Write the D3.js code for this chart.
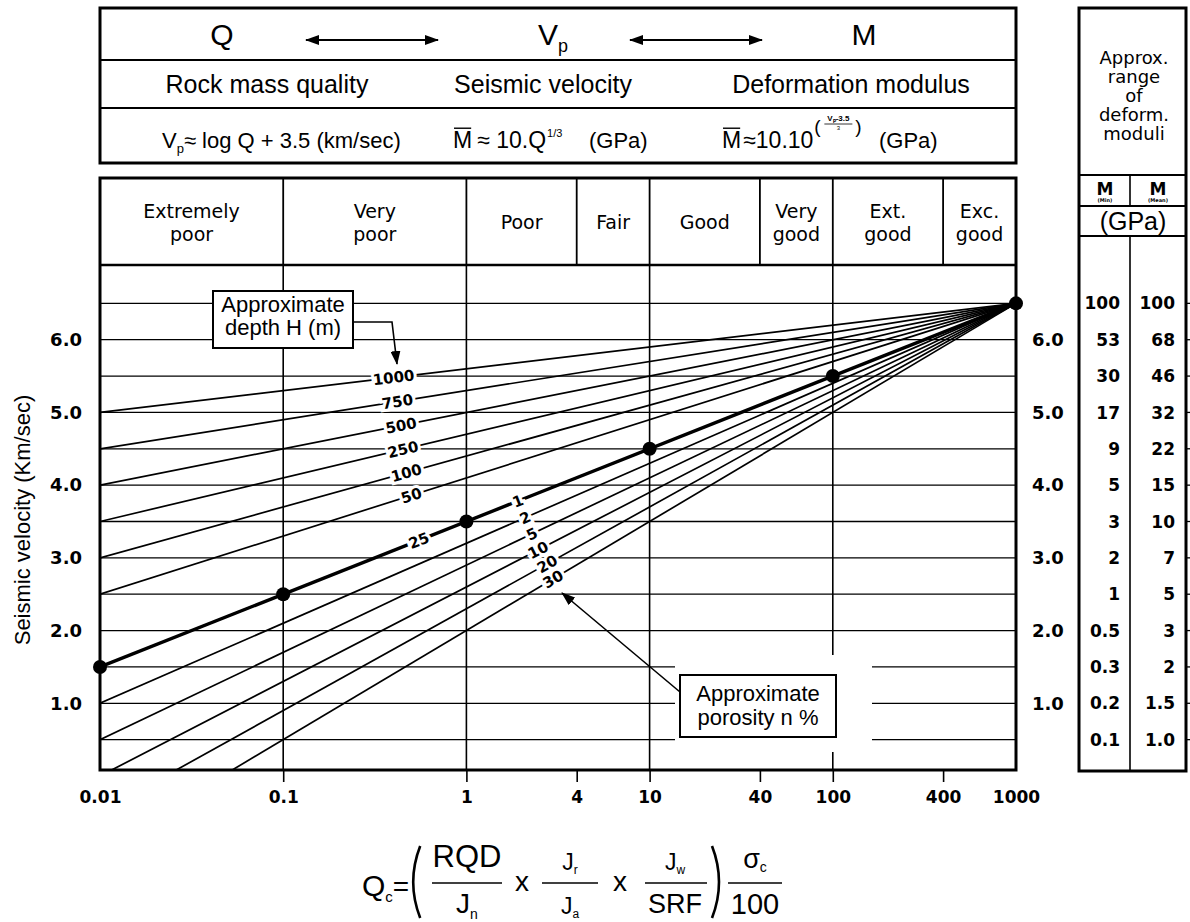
<!DOCTYPE html>
<html>
<head>
<meta charset="utf-8">
<script src="https://cdn.jsdelivr.net/npm/d3@7"></script>
<style>
body{margin:0;background:#fff}
svg{display:block}
</style>
</head>
<body>
<div id="chart"></div>
<script>
// ---- data ----
var qTicks = [0.01, 0.1, 1, 4, 10, 40, 100, 400, 1000];
var qGridLines = [0.1, 1, 10, 100];
var qClassEdges = [0.01, 0.1, 1, 4, 10, 40, 100, 400, 1000];
var qClassNames = [["Extremely","poor"],["Very","poor"],["Poor"],["Fair"],["Good"],["Very","good"],["Ext.","good"],["Exc.","good"]];
var vpTicks = [1, 2, 3, 4, 5, 6];
var vpGrid = [0.5, 1, 1.5, 2, 2.5, 3, 3.5, 4, 4.5, 5, 5.5, 6, 6.5];

// all lines run from Q=0.01 to the common point Q=1000, Vp=6.5
var startQ = 0.01, pivotQ = 1000, pivotVp = 6.5;
var depthLabels = ["1000","750","500","250","100","50","25"];
var depthStartVp = [5.0, 4.5, 4.0, 3.5, 3.0, 2.5, 1.5];
var depthLabelQ = [0.40, 0.42, 0.44, 0.45, 0.47, 0.50, 0.55];
var porosityLabels = ["1","2","5","10","20","30"];
var porosityStartVp = [1.5, 1.0, 0.5, 0.0, -0.5, -1.0];
var porosityLabelQ = [1.91, 2.09, 2.28, 2.46, 2.76, 2.97];

var dotQ = [0.01, 0.1, 1, 10, 100, 1000];
var dotVp = [1.5, 2.5, 3.5, 4.5, 5.5, 6.5];

var tableVp = [6.5, 6.0, 5.5, 5.0, 4.5, 4.0, 3.5, 3.0, 2.5, 2.0, 1.5, 1.0, 0.5];
var mMin  = ["100","53","30","17","9","5","3","2","1","0.5","0.3","0.2","0.1"];
var mMean = ["100","68","46","32","22","15","10","7","5","3","2","1.5","1.0"];

// ---- layout ----
var W = 1190, H = 922;
var SANS = "'Liberation Sans', Arial, sans-serif";
var DV = "'DejaVu Sans', sans-serif";

var svg = d3.select("#chart").append("svg")
  .attr("width", W).attr("height", H)
  .style("font-family", SANS);
svg.append("rect").attr("width", W).attr("height", H).attr("fill", "#fff");

var x = d3.scaleLog().domain([0.01, 1000]).range([100, 1016]);
var y = d3.scaleLinear().domain([0, 7]).range([776, 267]);
var plotTop = 265, plotBottom = 770, classTop = 178;
var plotLeft = x(0.01), plotRight = x(1000);

var defs = svg.append("defs");
defs.append("clipPath").attr("id", "plotclip").append("rect")
  .attr("x", plotLeft).attr("y", plotTop)
  .attr("width", plotRight - plotLeft).attr("height", plotBottom - plotTop);
defs.append("marker").attr("id", "ah")
  .attr("viewBox", "0 0 14 10").attr("refX", 13).attr("refY", 5)
  .attr("markerWidth", 14).attr("markerHeight", 10)
  .attr("markerUnits", "userSpaceOnUse")
  .attr("orient", "auto-start-reverse")
  .append("path").attr("d", "M0,0 L14,5 L0,10 Z").attr("fill", "#000");

// helper: lay text pieces side by side (for subscripts / superscripts)
function seq(parent, x0, base, pieces, anchor) {
  var g = parent.append("g"), cx = 0, items = [];
  pieces.forEach(function(p) {
    var t = g.append("text").attr("x", 0).attr("y", base + (p.dy || 0))
      .style("font-size", p.size + "px").text(p.t);
    if (p.family) t.style("font-family", p.family);
    if (p.weight) t.style("font-weight", p.weight);
    var w = t.node().getComputedTextLength();
    items.push({t: t, x: cx, w: w, p: p});
    cx += w + (p.gap || 0);
  });
  var off = anchor === "middle" ? x0 - cx / 2 : x0;
  items.forEach(function(it) {
    it.t.attr("x", off + it.x);
    if (it.p.over) {
      g.append("line")
        .attr("x1", off + it.x + 1).attr("x2", off + it.x + it.w - 1)
        .attr("y1", base - it.p.size * 0.86).attr("y2", base - it.p.size * 0.86)
        .attr("stroke", "#000").attr("stroke-width", 1.4);
    }
  });
  return {x: off, end: off + cx};
}

// ---- gridlines ----
svg.append("g").selectAll("line").data(vpGrid).join("line")
  .attr("x1", plotLeft).attr("x2", plotRight)
  .attr("y1", function(d){ return y(d); }).attr("y2", function(d){ return y(d); })
  .attr("stroke", "#000").attr("stroke-width", 1.3);

svg.append("g").selectAll("line").data(qGridLines).join("line")
  .attr("x1", function(d){ return x(d); }).attr("x2", function(d){ return x(d); })
  .attr("y1", plotTop).attr("y2", plotBottom)
  .attr("stroke", "#000").attr("stroke-width", 1.6);

// class row dividers
svg.append("g").selectAll("line").data(qClassEdges.slice(1, -1)).join("line")
  .attr("x1", function(d){ return x(d); }).attr("x2", function(d){ return x(d); })
  .attr("y1", classTop).attr("y2", plotTop)
  .attr("stroke", "#000").attr("stroke-width", 1.8);

// ---- depth and porosity lines ----
var line = d3.line().x(function(d){ return x(d[0]); }).y(function(d){ return y(d[1]); });
var lg = svg.append("g").attr("clip-path", "url(#plotclip)");

lg.selectAll("path.por").data(porosityStartVp).join("path").attr("class", "por")
  .attr("d", function(v){ return line([[startQ, v], [pivotQ, pivotVp]]); })
  .attr("fill", "none").attr("stroke", "#000").attr("stroke-width", 1.7);

lg.selectAll("path.dep").data(depthStartVp).join("path").attr("class", "dep")
  .attr("d", function(v){ return line([[startQ, v], [pivotQ, pivotVp]]); })
  .attr("fill", "none").attr("stroke", "#000")
  .attr("stroke-width", function(v, i){ return i === depthStartVp.length - 1 ? 3.4 : 1.7; });

// white gap around the porosity note (breaks gridlines and Q=100 line)
svg.append("rect").attr("x", 675).attr("y", 655).attr("width", 197).attr("height", 97).attr("fill", "#fff");

// dots on the main line
svg.append("g").selectAll("circle").data(dotQ).join("circle")
  .attr("cx", function(d){ return x(d); })
  .attr("cy", function(d, i){ return y(dotVp[i]); })
  .attr("r", 7).attr("fill", "#000");

// ---- line labels ----
function posOnLine(v0, q) {
  var t = (Math.log10(q) - Math.log10(startQ)) / (Math.log10(pivotQ) - Math.log10(startQ));
  return v0 + (pivotVp - v0) * t;
}
function angleOf(v0) {
  return Math.atan2(y(pivotVp) - y(v0), x(pivotQ) - x(startQ)) * 180 / Math.PI;
}
function lineLabels(labels, starts, qs) {
  svg.append("g").selectAll("text").data(labels).join("text")
    .attr("transform", function(d, i) {
      return "translate(" + x(qs[i]) + "," + y(posOnLine(starts[i], qs[i])) + ") rotate(" + angleOf(starts[i]) + ")";
    })
    .attr("text-anchor", "middle").attr("dy", "0.36em")
    .style("font-family", DV).style("font-weight", "bold").style("font-size", "15px")
    .attr("stroke", "#fff").attr("stroke-width", 6).attr("paint-order", "stroke")
    .attr("fill", "#000")
    .text(function(d){ return d; });
}
lineLabels(depthLabels, depthStartVp, depthLabelQ);
lineLabels(porosityLabels, porosityStartVp, porosityLabelQ);

// ---- frames ----
svg.append("rect").attr("x", plotLeft).attr("y", classTop)
  .attr("width", plotRight - plotLeft).attr("height", plotBottom - classTop)
  .attr("fill", "none").attr("stroke", "#000").attr("stroke-width", 3);
svg.append("line").attr("x1", plotLeft).attr("x2", plotRight).attr("y1", plotTop).attr("y2", plotTop)
  .attr("stroke", "#000").attr("stroke-width", 2.5);

// class names
var cls = svg.append("g").style("font-family", DV).style("font-size", "19px").attr("text-anchor", "middle");
qClassNames.forEach(function(lines, i) {
  var cx = (x(qClassEdges[i]) + x(qClassEdges[i + 1])) / 2;
  var t = cls.append("text").attr("x", cx);
  if (lines.length === 1) {
    t.attr("y", 229).text(lines[0]);
  } else {
    t.append("tspan").attr("x", cx).attr("y", 218).text(lines[0]);
    t.append("tspan").attr("x", cx).attr("y", 241).text(lines[1]);
  }
});

// ---- axes ----
var xAxis = svg.append("g").attr("transform", "translate(0," + plotBottom + ")")
  .call(d3.axisBottom(x).tickValues(qTicks).tickFormat(function(d){ return String(d); })
    .tickSize(12).tickPadding(9));
xAxis.select(".domain").remove();
xAxis.selectAll(".tick line").attr("stroke-width", 1.6)
  .filter(function(d){ return d === 0.01 || d === 1000; }).remove();
xAxis.selectAll(".tick text").style("font-family", DV).style("font-weight", "bold").style("font-size", "17px").attr("fill", "#000");

var yAxisL = svg.append("g").attr("transform", "translate(" + plotLeft + ",0)")
  .call(d3.axisLeft(y).tickValues(vpTicks).tickFormat(d3.format(".1f")).tickSize(0).tickPadding(18));
var yAxisR = svg.append("g").attr("transform", "translate(" + plotRight + ",0)")
  .call(d3.axisRight(y).tickValues(vpTicks).tickFormat(d3.format(".1f")).tickSize(0).tickPadding(16));
[yAxisL, yAxisR].forEach(function(a) {
  a.select(".domain").remove();
  a.selectAll(".tick text").style("font-family", DV).style("font-weight", "bold").style("font-size", "18px").attr("fill", "#000");
});

svg.append("text").attr("transform", "translate(22,520) rotate(-90)")
  .attr("text-anchor", "middle").attr("dy", "0.35em")
  .style("font-size", "22px").text("Seismic velocity (Km/sec)");

// ---- notes with arrows ----
svg.append("rect").attr("x", 213).attr("y", 291).attr("width", 140).attr("height", 57)
  .attr("fill", "#fff").attr("stroke", "#000").attr("stroke-width", 2);
svg.append("text").attr("x", 283).attr("y", 312).attr("text-anchor", "middle").style("font-size", "22px").text("Approximate");
svg.append("text").attr("x", 283).attr("y", 335).attr("text-anchor", "middle").style("font-size", "22px").text("depth H (m)");
svg.append("path").attr("d", "M353,322 H392 L397,364").attr("fill", "none")
  .attr("stroke", "#000").attr("stroke-width", 1.6).attr("marker-end", "url(#ah)");

svg.append("rect").attr("x", 680).attr("y", 675).attr("width", 156).attr("height", 62)
  .attr("fill", "#fff").attr("stroke", "#000").attr("stroke-width", 2);
svg.append("text").attr("x", 758).attr("y", 701).attr("text-anchor", "middle").style("font-size", "22px").text("Approximate");
svg.append("text").attr("x", 758).attr("y", 725).attr("text-anchor", "middle").style("font-size", "22px").text("porosity n %");
svg.append("path").attr("d", "M680,692 L562,593").attr("fill", "none")
  .attr("stroke", "#000").attr("stroke-width", 1.6).attr("marker-end", "url(#ah)");

// ---- header box ----
var hd = svg.append("g");
hd.append("rect").attr("x", plotLeft).attr("y", 8).attr("width", plotRight - plotLeft).attr("height", 155)
  .attr("fill", "none").attr("stroke", "#000").attr("stroke-width", 3);
[60, 108].forEach(function(yy) {
  hd.append("line").attr("x1", plotLeft).attr("x2", plotRight).attr("y1", yy).attr("y2", yy)
    .attr("stroke", "#000").attr("stroke-width", 2);
});
seq(hd, 222, 45, [{t: "Q", size: 30}], "middle");
seq(hd, 553, 45, [{t: "V", size: 30}, {t: "p", size: 18, dy: 7}], "middle");
seq(hd, 864, 45, [{t: "M", size: 30}], "middle");
[[306, 438], [630, 762]].forEach(function(a) {
  hd.append("line").attr("x1", a[0]).attr("x2", a[1]).attr("y1", 40).attr("y2", 40)
    .attr("stroke", "#000").attr("stroke-width", 1.8)
    .attr("marker-start", "url(#ah)").attr("marker-end", "url(#ah)");
});
hd.append("text").attr("x", 267).attr("y", 93).attr("text-anchor", "middle").style("font-size", "25px").text("Rock mass quality");
hd.append("text").attr("x", 543).attr("y", 93).attr("text-anchor", "middle").style("font-size", "25px").text("Seismic velocity");
hd.append("text").attr("x", 851).attr("y", 93).attr("text-anchor", "middle").style("font-size", "25px").text("Deformation modulus");

seq(hd, 162, 148, [{t: "V", size: 22}, {t: "p", size: 13, dy: 5}, {t: " \u2248 log Q + 3.5 (km/sec)", size: 22}]);
seq(hd, 453, 148, [{t: "M", size: 23, over: true, gap: 5}, {t: "\u2248 10.Q", size: 23, gap: 1}, {t: "1/3", size: 11, dy: -11}]);
hd.append("text").attr("x", 589).attr("y", 148).style("font-size", "22px").text("(GPa)");
var m2 = seq(hd, 722, 148, [{t: "M", size: 23, over: true, gap: 2}, {t: "\u224810.10", size: 23}]);
var ex = m2.end + 1;
hd.append("text").attr("x", ex).attr("y", 133).style("font-size", "19px").text("(");
hd.append("text").attr("x", ex + 24).attr("y", 121).attr("text-anchor", "middle")
  .style("font-size", "8px").style("font-weight", "bold").text("V\u209A-3.5");
hd.append("line").attr("x1", ex + 10).attr("x2", ex + 38).attr("y1", 124).attr("y2", 124).attr("stroke", "#000").attr("stroke-width", 0.8);
hd.append("text").attr("x", ex + 24).attr("y", 130).attr("text-anchor", "middle").style("font-size", "6px").text("3");
hd.append("text").attr("x", ex + 41).attr("y", 133).style("font-size", "19px").text(")");
hd.append("text").attr("x", 879).attr("y", 148).style("font-size", "22px").text("(GPa)");

// ---- moduli table ----
var tb = svg.append("g");
var tL = 1079, tM = 1130, tR = 1186;
tb.append("rect").attr("x", tL).attr("y", 8).attr("width", tR - tL).attr("height", 763)
  .attr("fill", "none").attr("stroke", "#000").attr("stroke-width", 3);
[175, 206, 236].forEach(function(yy) {
  tb.append("line").attr("x1", tL).attr("x2", tR).attr("y1", yy).attr("y2", yy).attr("stroke", "#000").attr("stroke-width", 2);
});
tb.append("line").attr("x1", tM).attr("x2", tM).attr("y1", 175).attr("y2", 206).attr("stroke", "#000").attr("stroke-width", 1.6);
tb.append("line").attr("x1", tM).attr("x2", tM).attr("y1", 236).attr("y2", 771).attr("stroke", "#000").attr("stroke-width", 1.6);
var hdr = ["Approx.", "range", "of", "deform.", "moduli"];
tb.append("g").selectAll("text").data(hdr).join("text")
  .attr("x", 1134).attr("y", function(d, i){ return 64 + i * 19; })
  .attr("text-anchor", "middle").style("font-family", DV).style("font-size", "18px")
  .text(function(d){ return d; });
[[1105, "(Min)"], [1158, "(Mean)"]].forEach(function(c) {
  tb.append("text").attr("x", c[0]).attr("y", 195).attr("text-anchor", "middle")
    .style("font-family", DV).style("font-weight", "bold").style("font-size", "17px").text("M");
  tb.append("text").attr("x", c[0]).attr("y", 202).attr("text-anchor", "middle")
    .style("font-family", DV).style("font-weight", "bold").style("font-size", "5px").text(c[1]);
});
tb.append("text").attr("x", 1133).attr("y", 230).attr("text-anchor", "middle").style("font-size", "25px").text("(GPa)");

tb.append("g").selectAll("text").data(mMin).join("text")
  .attr("x", 1120).attr("y", function(d, i){ return y(tableVp[i]); }).attr("dy", "0.36em")
  .attr("text-anchor", "end").style("font-family", DV).style("font-weight", "bold").style("font-size", "17px")
  .text(function(d){ return d; });
tb.append("g").selectAll("text").data(mMean).join("text")
  .attr("x", 1175).attr("y", function(d, i){ return y(tableVp[i]); }).attr("dy", "0.36em")
  .attr("text-anchor", "end").style("font-family", DV).style("font-weight", "bold").style("font-size", "17px")
  .text(function(d){ return d; });
tb.append("g").selectAll("line").data(tableVp).join("line")
  .attr("x1", tR).attr("x2", tR + 5).attr("y1", function(d){ return y(d); }).attr("y2", function(d){ return y(d); })
  .attr("stroke", "#000").attr("stroke-width", 1.3);

// ---- Qc formula ----
var fm = svg.append("g");
var qc = seq(fm, 362, 896, [{t: "Q", size: 30}, {t: "c", size: 15, dy: 6}, {t: "=", size: 28, gap: 0}]);
function paren(xx, dir) {
  fm.append("path").attr("d", "M" + xx + ",846 Q" + (xx - dir * 14) + ",882 " + xx + ",918")
    .attr("fill", "none").attr("stroke", "#000").attr("stroke-width", 2.6);
}
paren(qc.end + 11, 1);
function bar(x1, x2) {
  fm.append("line").attr("x1", x1).attr("x2", x2).attr("y1", 883).attr("y2", 883).attr("stroke", "#000").attr("stroke-width", 1.6);
}
fm.append("text").attr("x", 467).attr("y", 867).attr("text-anchor", "middle").style("font-size", "31px").text("RQD");
bar(432, 502);
seq(fm, 467, 913, [{t: "J", size: 28}, {t: "n", size: 14, dy: 6}], "middle");
fm.append("text").attr("x", 522).attr("y", 891).attr("text-anchor", "middle").style("font-size", "28px").text("x");
seq(fm, 570, 870, [{t: "J", size: 23}, {t: "r", size: 12, dy: 4}], "middle");
bar(542, 598);
seq(fm, 570, 914, [{t: "J", size: 23}, {t: "a", size: 12, dy: 4}], "middle");
fm.append("text").attr("x", 620).attr("y", 891).attr("text-anchor", "middle").style("font-size", "28px").text("x");
seq(fm, 675, 870, [{t: "J", size: 23}, {t: "w", size: 12, dy: 4}], "middle");
bar(645, 707);
fm.append("text").attr("x", 675).attr("y", 913).attr("text-anchor", "middle").style("font-size", "27px").text("SRF");
paren(712, -1);
seq(fm, 755, 868, [{t: "\u03C3", size: 27}, {t: "c", size: 14, dy: 4}], "middle");
bar(728, 782);
fm.append("text").attr("x", 755).attr("y", 914).attr("text-anchor", "middle").style("font-size", "29px").text("100");
</script>
</body>
</html>
